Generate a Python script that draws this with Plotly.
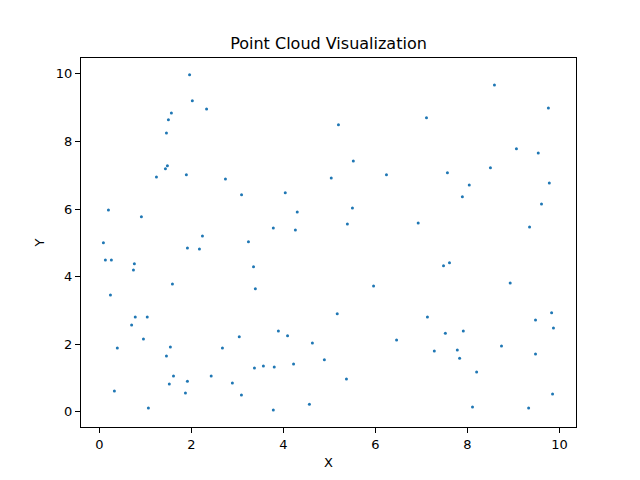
import plotly.graph_objects as go

x_vals = [1.96, 2.02, 2.33, 1.565, 1.50, 1.457, 1.478, 1.435, 1.24, 1.89, 2.74, 3.09, 0.196, 0.913, 2.24, 0.087, 3.24,
          1.913, 2.174, 0.13, 0.26, 0.76, 0.74, 1.587, 0.24, 0.78, 1.04, 0.70, 0.957, 3.04, 0.39, 1.543, 2.674, 1.457,
          1.61, 2.43, 1.52, 1.913, 2.89, 1.87, 3.087, 0.326, 1.065,
          5.196, 5.52, 6.24, 5.04, 4.04, 4.30, 5.50, 3.78, 4.26, 5.39,
          3.35, 3.39, 5.96, 5.17, 3.89, 4.09, 6.46, 4.63, 4.89, 3.37, 3.565, 3.80, 4.22, 5.37, 4.565, 3.78,
          8.587, 9.76, 7.11, 9.065, 9.54, 7.565, 8.50, 8.04, 9.78, 7.89, 9.61, 6.93, 9.35,
          7.48, 7.61, 8.93, 7.13, 9.83, 9.48, 9.87, 7.52, 7.91, 7.28, 7.78, 7.83, 8.74, 9.48, 8.20, 9.85, 8.11, 9.33]
y_vals = [9.97, 9.20, 8.96, 8.84, 8.64, 8.25, 7.28, 7.19, 6.95, 7.01, 6.89, 6.42, 5.97, 5.77, 5.20, 5.00, 5.03,
          4.85, 4.82, 4.49, 4.49, 4.38, 4.20, 3.78, 3.46, 2.81, 2.81, 2.57, 2.16, 2.22, 1.89, 1.92, 1.89, 1.65,
          1.06, 1.06, 0.825, 0.91, 0.855, 0.56, 0.50, 0.62, 0.115,
          8.49, 7.42, 7.01, 6.92, 6.48, 5.91, 6.03, 5.44, 5.38, 5.56,
          4.29, 3.64, 3.72, 2.90, 2.39, 2.25, 2.13, 2.04, 1.54, 1.30, 1.36, 1.33, 1.42, 0.97, 0.23, 0.056,
          9.67, 8.99, 8.70, 7.78, 7.66, 7.07, 7.22, 6.71, 6.77, 6.36, 6.15, 5.59, 5.47,
          4.32, 4.41, 3.81, 2.81, 2.93, 2.72, 2.48, 2.33, 2.39, 1.80, 1.83, 1.59, 1.95, 1.71, 1.18, 0.53, 0.145, 0.115]
tick_vals = [0, 2, 4, 6, 8, 10]

fig = go.Figure(go.Scatter(x=x_vals, y=y_vals, mode="markers",
                           marker=dict(color="#1f77b4", size=3, line=dict(width=0))))

axis_common = dict(showgrid=False, zeroline=False, showline=True, linecolor="black", linewidth=1,
                   mirror=True, ticks="outside", ticklen=5, tickwidth=1, tickcolor="black",
                   tickvals=tick_vals, tickfont=dict(size=13, color="black"))

fig.update_layout(
    width=640, height=480,
    paper_bgcolor="white", plot_bgcolor="white",
    font=dict(family="DejaVu Sans", color="black"),
    margin=dict(l=73, r=72, t=50, b=61),
    title=dict(text="Point Cloud Visualization", x=0.5, xanchor="center", xref="paper",
               y=1 - 35 / 480, yref="container", yanchor="middle", font=dict(size=16)),
    xaxis=dict(range=[-0.40, 10.36], title=dict(text="X", font=dict(size=13), standoff=7), **axis_common),
    yaxis=dict(range=[-0.446, 10.466], title=dict(text="Y", font=dict(size=13), standoff=8), **axis_common),
    showlegend=False,
)

fig.write_html("out.html")
